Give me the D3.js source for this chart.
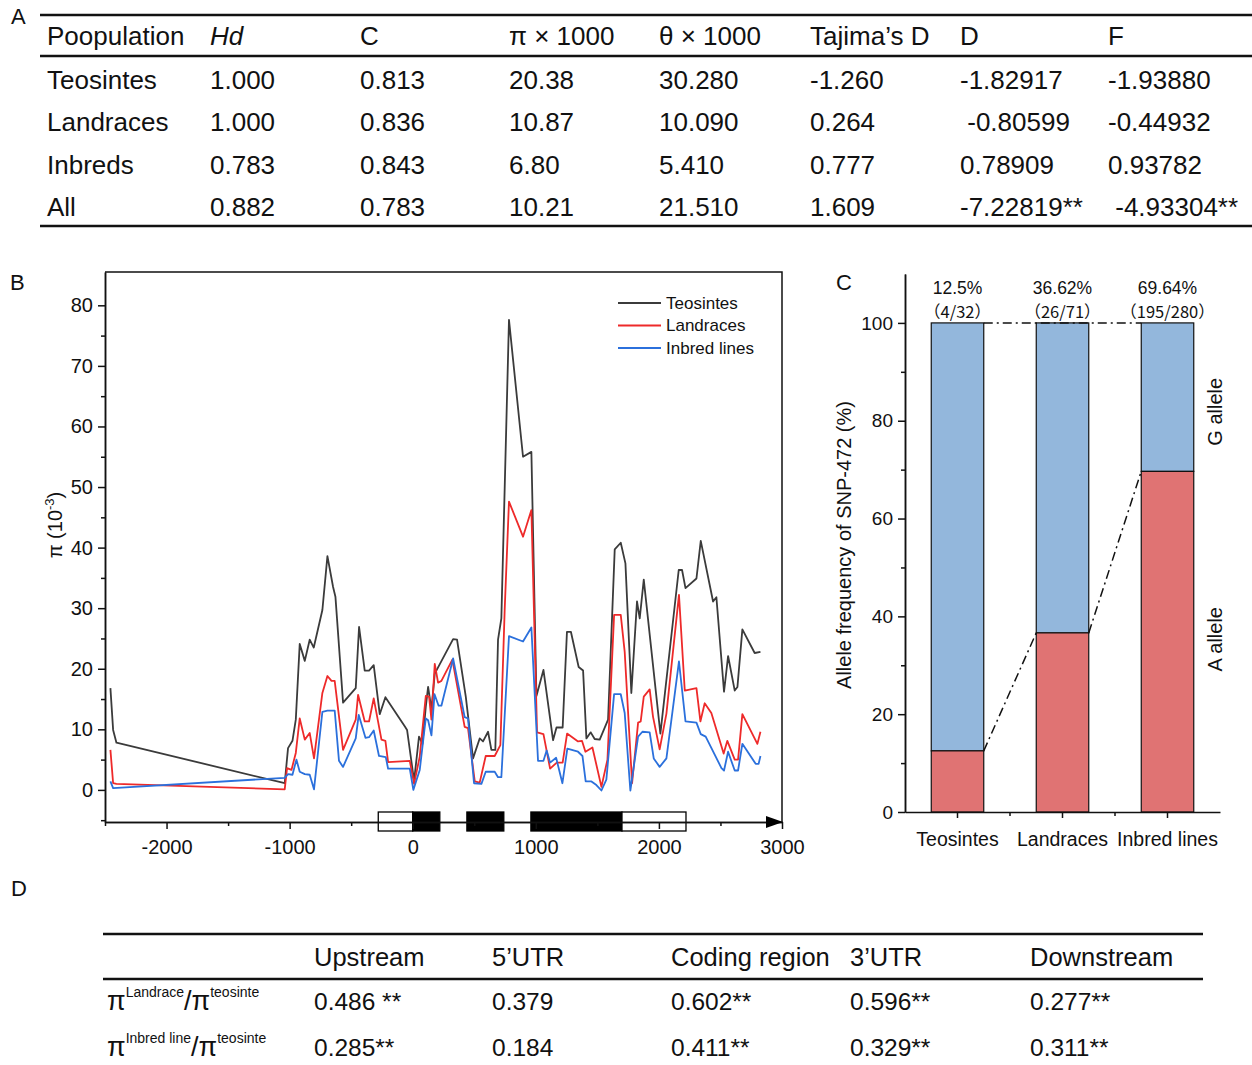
<!DOCTYPE html>
<html>
<head>
<meta charset="utf-8">
<script src="https://cdn.jsdelivr.net/npm/d3@7"></script>
<style>
body{margin:0;background:#fff;}
svg text{font-family:"Liberation Sans",Arial,sans-serif;fill:#111;}
</style>
</head>
<body>
<svg id="fig" width="1252" height="1065"></svg>
<script>
// ---------- data: table A ----------
var tableAHeader = ["Poopulation", "Hd", "C", "π × 1000", "θ × 1000", "Tajima’s D", "D", "F"];
var tableARows = [
    ["Teosintes", "1.000", "0.813", "20.38", "30.280", "-1.260", "-1.82917", "-1.93880"],
    ["Landraces", "1.000", "0.836", "10.87", "10.090", "0.264", " -0.80599", "-0.44932"],
    ["Inbreds", "0.783", "0.843", "6.80", "5.410", "0.777", "0.78909", "0.93782"],
    ["All", "0.882", "0.783", "10.21", "21.510", "1.609", "-7.22819**", " -4.93304**"]
];

// ---------- data: panel B (nucleotide diversity along the gene) ----------
var seriesNames = ["Teosintes", "Landraces", "Inbred lines"];
var teoPos = [-2456,-2434,-2407,-1040,-1013,-977,-950,-918,-877,-837,-804,-734,-693,-647,-628,-566,-463,-436,-390,-355,-317,-268,-222,-65,-46,11,51,79,106,125,152,179,328,360,431,490,544,571,612,639,671,693,720,782,896,964,1005,1062,1140,1168,1218,1253,1285,1348,1384,1411,1446,1478,1519,1587,1641,1690,1728,1776,1822,1844,1877,2012,2161,2188,2216,2305,2340,2440,2467,2529,2562,2616,2638,2678,2778,2825];
var teoPi  = [16.8,9.9,7.8,1.1,6.9,8.1,11.6,24.1,21.3,24.8,23.5,29.7,38.6,33.5,31.9,14.4,16.8,26.9,19.7,19.7,20.6,12.5,15.3,10.5,9.9,1.5,8.8,7.6,13.7,17.0,13.3,19.2,24.9,24.8,15.4,5.2,8.5,8.0,9.6,6.6,6.6,24.8,28.3,77.6,55.0,55.8,15.5,19.8,8.2,10.3,10.3,26.1,26.1,20.3,19.7,8.5,9.5,8.4,8.3,11.6,39.7,40.8,37.4,16.0,31.1,28.3,34.7,9.3,36.3,36.3,33.3,34.9,41.1,31.1,31.8,16.2,22.1,16.4,17.0,26.5,22.6,22.8];
var landPos = [-2456,-2434,-2407,-1040,-1021,-985,-950,-918,-877,-837,-802,-734,-693,-660,-634,-566,-463,-444,-390,-355,-317,-254,-222,-200,-24,11,57,106,133,152,179,206,233,322,422,449,504,544,593,666,712,747,782,896,964,1010,1062,1116,1170,1218,1254,1343,1375,1403,1460,1533,1582,1636,1690,1722,1782,1831,1852,1877,1925,1952,2006,2061,2163,2210,2305,2337,2372,2426,2526,2556,2616,2643,2678,2800,2825];
var landPi  = [6.6,1.1,1.0,0.1,3.6,3.3,6.1,11.8,8.3,9.4,5.2,16.0,18.8,18.0,18.0,6.6,11.6,15.7,11.3,11.3,15.1,8.3,8.1,4.6,4.8,1.0,5.5,15.5,15.4,11.6,20.8,17.7,18.0,21.5,10.4,10.2,1.4,1.2,5.6,5.6,7.4,29.7,47.6,41.8,46.2,9.5,9.2,3.5,4.5,4.5,9.3,8.0,8.1,6.3,7.0,0.5,5.0,28.9,28.9,22.8,1.1,11.1,11.3,15.4,16.6,12.1,6.7,12.6,32.2,16.4,16.8,11.3,14.3,12.7,6.0,8.1,5.0,5.0,12.5,7.6,9.6];
var inbPos = [-2456,-2434,-1040,-1013,-977,-945,-918,-877,-837,-802,-734,-693,-634,-599,-566,-463,-439,-384,-355,-317,-274,-219,-200,-24,5,57,106,125,152,177,210,233,328,422,449,498,558,593,666,693,720,782,896,964,1018,1062,1088,1116,1165,1216,1256,1343,1379,1405,1452,1492,1533,1573,1636,1690,1722,1768,1831,1866,1925,1958,2006,2061,2163,2216,2305,2340,2380,2508,2529,2562,2616,2643,2678,2786,2810,2825];
var inbPi  = [1.4,0.3,2.0,2.6,2.5,5.0,3.0,2.6,2.5,0.1,12.9,13.1,13.1,4.8,3.8,8.5,12.4,8.6,8.7,9.8,5.6,5.4,3.5,3.5,0.0,3.3,11.8,11.5,9.0,15.8,13.9,13.9,21.7,12.0,11.8,1.1,1.0,3.0,3.0,2.1,2.1,25.4,24.5,26.8,4.8,4.8,6.5,4.5,5.3,1.1,6.8,6.3,5.6,1.4,1.4,0.8,-0.1,1.7,15.8,15.8,12.7,-0.1,8.8,9.6,9.5,5.2,3.8,5.2,21.2,11.3,11.1,9.2,8.8,3.6,3.2,6.3,3.2,3.2,7.6,4.3,4.3,5.6];
var xTicksB = [-2000, -1000, 0, 1000, 2000, 3000];
var yTicksB = [0, 10, 20, 30, 40, 50, 60, 70, 80];

// gene model (bp relative to ATG)
var geneStart = [-280, 0, 440, 960, 1700];
var geneEnd   = [0, 220, 740, 1700, 2220];
var geneType  = ["utr", "cds", "cds", "cds", "utr"];

// ---------- data: panel C ----------
var groupsC = ["Teosintes", "Landraces", "Inbred lines"];
var aAllele = [12.5, 36.62, 69.64];
var pctLabels = ["12.5%", "36.62%", "69.64%"];
var countLabels = ["（4/32）", "（26/71）", "（195/280）"];
var yTicksC = [0, 20, 40, 60, 80, 100];

// ---------- data: table D ----------
var tableDHeader = ["", "Upstream", "5’UTR", "Coding region", "3’UTR", "Downstream"];
var tableDSup = [["Landrace", "teosinte"], ["Inbred line", "teosinte"]];
var tableDRows = [
    ["0.486 **", "0.379", "0.602**", "0.596**", "0.277**"],
    ["0.285**", "0.184", "0.411**", "0.329**", "0.311**"]
];

var svg = d3.select("#fig");
var FONT = '"Liberation Sans", Arial, sans-serif';

function panelLabel(t, x, y){
    svg.append("text").attr("x", x).attr("y", y).attr("font-size", 22).text(t);
}

function hline(x1, x2, y, w){
    svg.append("line").attr("x1", x1).attr("x2", x2).attr("y1", y).attr("y2", y)
        .attr("stroke", "#111").attr("stroke-width", w);
}

function styleAxis(a, fs){
    a.select(".domain").attr("stroke", "#111").attr("stroke-width", 1.5);
    a.selectAll(".tick line").attr("stroke", "#111").attr("stroke-width", 1.5);
    a.selectAll("text").attr("font-size", fs).attr("font-family", FONT).attr("fill", "#111");
}

// ================= A : table =================
panelLabel("A", 11, 24);
var colA = [47, 210, 360, 509, 659, 810, 960, 1108];
var rowA = [89, 131, 174, 216];
hline(40, 1252, 15, 2.5);
hline(40, 1252, 56, 2.5);
hline(40, 1252, 226, 2.5);

svg.append("g").selectAll("text").data(tableAHeader).enter().append("text")
    .attr("x", function(d, i){ return colA[i]; })
    .attr("y", 45)
    .attr("font-size", 26)
    .attr("font-style", function(d, i){ return i == 1 ? "italic" : "normal"; })
    .text(function(d){ return d; });

tableARows.forEach(function(row, r){
    svg.append("g").selectAll("text").data(row).enter().append("text")
        .attr("x", function(d, i){ return colA[i]; })
        .attr("y", rowA[r])
        .attr("font-size", 26)
        .style("white-space", "pre")
        .text(function(d){ return d; });
});

// ================= B : diversity plot =================
panelLabel("B", 10, 290);
var xB = d3.scaleLinear().domain([-2500, 3000]).range([105, 782]);
var yB = d3.scaleLinear().domain([-5.3, 85.5]).range([822, 272]);

var gB = svg.append("g");

// frame top / right
gB.append("path")
    .attr("d", "M" + xB.range()[0] + "," + yB.range()[1] + "H" + xB.range()[1] + "V" + yB.range()[0])
    .attr("fill", "none").attr("stroke", "#111").attr("stroke-width", 1.5);

// gene model on the x axis
gB.selectAll("rect.gene").data(geneStart).enter().append("rect")
    .attr("class", "gene")
    .attr("x", function(d){ return xB(d); })
    .attr("width", function(d, i){ return xB(geneEnd[i]) - xB(d); })
    .attr("y", yB.range()[0] - 10)
    .attr("height", 19)
    .attr("fill", function(d, i){ return geneType[i] == "cds" ? "#000" : "#fff"; })
    .attr("stroke", "#000").attr("stroke-width", 1.3);

var axB = gB.append("g").attr("transform", "translate(0," + yB.range()[0] + ")")
    .call(d3.axisBottom(xB).tickValues(xTicksB).tickSize(7).tickSizeOuter(0).tickPadding(11));
var axBm = gB.append("g").attr("transform", "translate(0," + yB.range()[0] + ")")
    .call(d3.axisBottom(xB).tickValues(xTicksB.map(function(v){ return v - 500; })).tickSize(4).tickSizeOuter(0).tickFormat(""));
var ayB = gB.append("g").attr("transform", "translate(" + xB.range()[0] + ",0)")
    .call(d3.axisLeft(yB).tickValues(yTicksB).tickSize(7).tickSizeOuter(0).tickPadding(5));
var ayBm = gB.append("g").attr("transform", "translate(" + xB.range()[0] + ",0)")
    .call(d3.axisLeft(yB).tickValues(yTicksB.map(function(v){ return v - 5; })).tickSize(4).tickSizeOuter(0).tickFormat(""));

[axB, axBm, ayB, ayBm].forEach(function(a){ styleAxis(a, 20); });
axB.selectAll("text").text(function(d){ return d < 0 ? "-" + Math.abs(d) : d; });

// arrow at the end of gene line
gB.append("path")
    .attr("d", "M" + (xB.range()[1] - 16) + "," + (yB.range()[0] - 6) + "L" + (xB.range()[1] + 1) + "," + yB.range()[0] + "L" + (xB.range()[1] - 16) + "," + (yB.range()[0] + 6) + "Z")
    .attr("fill", "#000");

var lineB = d3.line().x(function(d){ return xB(d[0]); }).y(function(d){ return yB(d[1]); });
var seriesB = [
    { name: seriesNames[0], pos: teoPos, pi: teoPi, color: "#3b3b3b" },
    { name: seriesNames[1], pos: landPos, pi: landPi, color: "#ee2a2a" },
    { name: seriesNames[2], pos: inbPos, pi: inbPi, color: "#2b70dc" }
];
seriesB.forEach(function(s){
    gB.append("path")
        .datum(d3.zip(s.pos, s.pi))
        .attr("d", lineB)
        .attr("fill", "none")
        .attr("stroke", s.color)
        .attr("stroke-width", 1.8)
        .attr("stroke-linejoin", "round");
});

// legend
var leg = gB.append("g");
seriesB.forEach(function(s, i){
    var ly = 303 + i * 22.5;
    leg.append("line").attr("x1", 618).attr("x2", 661).attr("y1", ly).attr("y2", ly)
        .attr("stroke", s.color).attr("stroke-width", 1.8);
    leg.append("text").attr("x", 666).attr("y", ly).attr("dy", "0.35em")
        .attr("font-size", 17).text(s.name);
});

// y label
var ylB = gB.append("text").attr("transform", "translate(62,525) rotate(-90)")
    .attr("text-anchor", "middle").attr("font-size", 20);
ylB.append("tspan").text("π (10");
ylB.append("tspan").attr("font-size", 13).attr("dy", -8).text("-3");
ylB.append("tspan").attr("dy", 8).text(")");

// ================= C : allele frequency =================
panelLabel("C", 836, 290);
var xC = d3.scaleBand().domain(groupsC).range([905, 1220]).paddingInner(0.5).paddingOuter(0.25);
var yC = d3.scaleLinear().domain([0, 110]).range([812, 274]);
var bw = xC.bandwidth();
var gC = svg.append("g");

// G allele (top) and A allele (bottom)
gC.selectAll("rect.g").data(groupsC).enter().append("rect")
    .attr("x", function(d){ return xC(d); })
    .attr("width", bw)
    .attr("y", yC(100))
    .attr("height", function(d, i){ return yC(aAllele[i]) - yC(100); })
    .attr("fill", "#93b7dc").attr("stroke", "#111").attr("stroke-width", 1.2);
gC.selectAll("rect.a").data(groupsC).enter().append("rect")
    .attr("x", function(d){ return xC(d); })
    .attr("width", bw)
    .attr("y", function(d, i){ return yC(aAllele[i]); })
    .attr("height", function(d, i){ return yC(0) - yC(aAllele[i]); })
    .attr("fill", "#e07373").attr("stroke", "#111").attr("stroke-width", 1.2);

// dash-dot connectors
var dd = "9,4,2,4";
for (var i = 0; i < groupsC.length - 1; i++){
    gC.append("line")
        .attr("x1", xC(groupsC[i]) + bw).attr("y1", yC(aAllele[i]))
        .attr("x2", xC(groupsC[i + 1])).attr("y2", yC(aAllele[i + 1]))
        .attr("stroke", "#111").attr("stroke-width", 1.5).attr("stroke-dasharray", dd);
}
gC.append("line")
    .attr("x1", xC(groupsC[0]) + bw).attr("y1", yC(100))
    .attr("x2", xC(groupsC[2])).attr("y2", yC(100))
    .attr("stroke", "#111").attr("stroke-width", 1.5).attr("stroke-dasharray", dd);

var axC = gC.append("g").attr("transform", "translate(0," + yC(0) + ")")
    .call(d3.axisBottom(xC).tickSize(6).tickSizeOuter(0).tickPadding(14));
// ticks between categories
gC.selectAll("line.sep").data(groupsC.slice(1)).enter().append("line")
    .attr("x1", function(d){ return xC(d) + bw / 2 - xC.step() / 2; })
    .attr("x2", function(d){ return xC(d) + bw / 2 - xC.step() / 2; })
    .attr("y1", yC(0)).attr("y2", yC(0) + 4)
    .attr("stroke", "#111").attr("stroke-width", 1.5);

var ayC = gC.append("g").attr("transform", "translate(" + xC.range()[0] + ",0)")
    .call(d3.axisLeft(yC).tickValues(yTicksC).tickSize(7).tickSizeOuter(0).tickPadding(5));
var ayCm = gC.append("g").attr("transform", "translate(" + xC.range()[0] + ",0)")
    .call(d3.axisLeft(yC).tickValues(yTicksC.slice(0, 5).map(function(v){ return v + 10; })).tickSize(4).tickSizeOuter(0).tickFormat(""));
[axC, ayC, ayCm].forEach(function(a){ styleAxis(a, 19); });
axC.selectAll("text").attr("font-size", 19.5);

// labels over bars
gC.selectAll("text.pct").data(pctLabels).enter().append("text")
    .attr("x", function(d, i){ return xC(groupsC[i]) + bw / 2; })
    .attr("y", 294).attr("text-anchor", "middle").attr("font-size", 17.5)
    .text(function(d){ return d; });
gC.selectAll("text.cnt").data(countLabels).enter().append("text")
    .attr("x", function(d, i){ return xC(groupsC[i]) + bw / 2; })
    .attr("y", 318).attr("text-anchor", "middle").attr("font-size", 16.5)
    .style("font-family", '"Noto Sans CJK SC", sans-serif')
    .text(function(d){ return d; });

gC.append("text").attr("transform", "translate(851,545) rotate(-90)")
    .attr("text-anchor", "middle").attr("font-size", 20)
    .text("Allele frequency of SNP-472 (%)");
gC.append("text").attr("transform", "translate(1222," + yC((100 + aAllele[2]) / 2 - 3) + ") rotate(-90)")
    .attr("text-anchor", "middle").attr("font-size", 20).text("G allele");
gC.append("text").attr("transform", "translate(1222," + yC(aAllele[2] / 2 + 0.5) + ") rotate(-90)")
    .attr("text-anchor", "middle").attr("font-size", 20).text("A allele");

// ================= D : table =================
panelLabel("D", 11, 896);
var colD = [107, 314, 492, 671, 850, 1030];
var rowD = [1010, 1056];
hline(103, 1203, 934, 2.5);
hline(103, 1203, 979, 2.5);

svg.append("g").selectAll("text").data(tableDHeader).enter().append("text")
    .attr("x", function(d, i){ return colD[i]; })
    .attr("y", 966).attr("font-size", 25.5)
    .text(function(d){ return d; });

tableDRows.forEach(function(row, r){
    var lab = svg.append("text").attr("x", colD[0]).attr("y", rowD[r]).attr("font-size", 27);
    lab.append("tspan").text("π");
    lab.append("tspan").attr("font-size", 14).attr("dy", -13).text(tableDSup[r][0]);
    lab.append("tspan").attr("dy", 13).text("/π");
    lab.append("tspan").attr("font-size", 14).attr("dy", -13).text(tableDSup[r][1]);

    svg.append("g").selectAll("text").data(row).enter().append("text")
        .attr("x", function(d, i){ return colD[i + 1]; })
        .attr("y", rowD[r]).attr("font-size", 24.5)
        .style("white-space", "pre")
        .text(function(d){ return d; });
});
</script>
</body>
</html>
